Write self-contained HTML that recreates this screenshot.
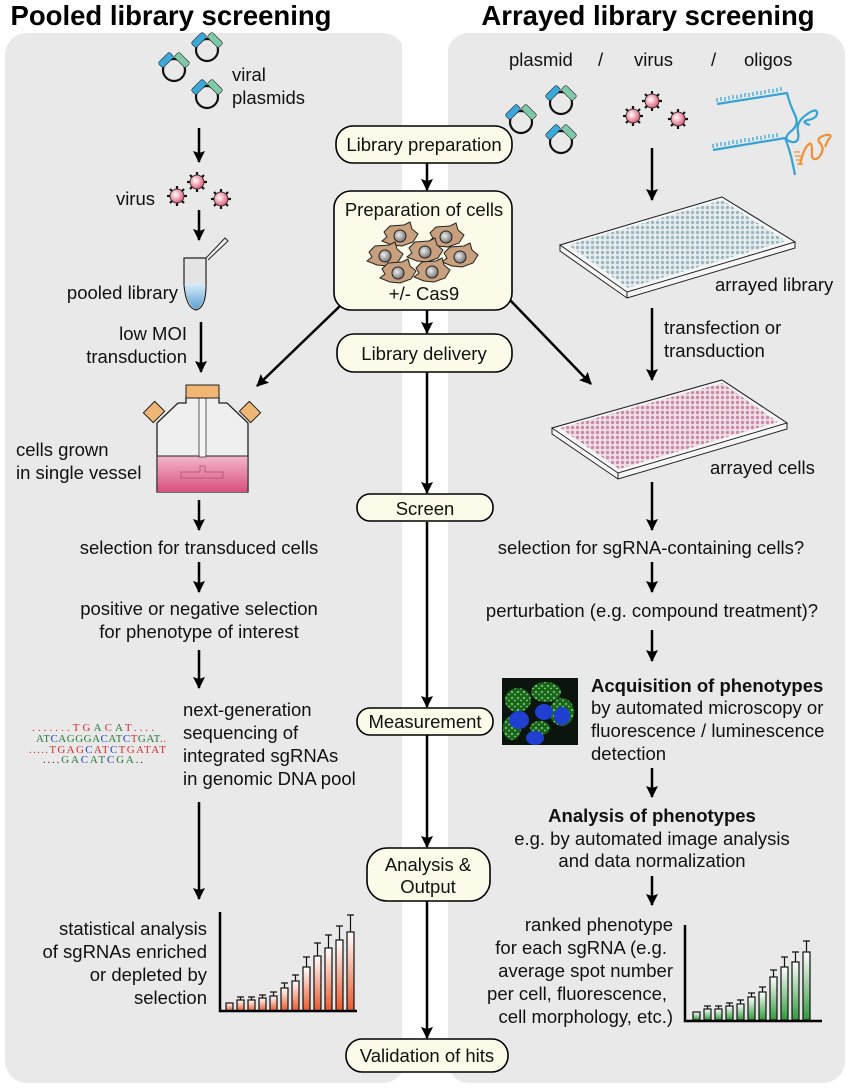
<!DOCTYPE html>
<html><head><meta charset="utf-8"><style>
html,body{margin:0;padding:0;background:#fff;}
svg{display:block;font-family:"Liberation Sans",Arial,sans-serif;}
</style></head><body>
<svg width="850" height="1089" viewBox="0 0 850 1089" xmlns="http://www.w3.org/2000/svg">
<defs>
<marker id="ah" markerWidth="14" markerHeight="14" refX="11" refY="6" orient="auto" markerUnits="userSpaceOnUse">
<path d="M0,0 L12,6 L0,12 L2,6 Z" fill="#000"/></marker>
<linearGradient id="og" x1="0" y1="0" x2="0" y2="1"><stop offset="0" stop-color="#fff"/><stop offset="1" stop-color="#e8582a"/></linearGradient>
<linearGradient id="gg" x1="0" y1="0" x2="0" y2="1"><stop offset="0" stop-color="#fff"/><stop offset="1" stop-color="#2f9a3a"/></linearGradient>
<linearGradient id="pk" x1="0" y1="0" x2="0" y2="1"><stop offset="0" stop-color="#f2b6cb"/><stop offset="1" stop-color="#d9507e"/></linearGradient>
<linearGradient id="bl" x1="0" y1="0" x2="0" y2="1"><stop offset="0" stop-color="#d8ecf8"/><stop offset="1" stop-color="#5aa0d6"/></linearGradient>
<radialGradient id="vr" cx="0.4" cy="0.4" r="0.6"><stop offset="0" stop-color="#fff"/><stop offset="1" stop-color="#e0607a"/></radialGradient>
<radialGradient id="nu" cx="0.4" cy="0.4" r="0.6"><stop offset="0" stop-color="#eee"/><stop offset="1" stop-color="#777"/></radialGradient>
<pattern id="wb" width="5" height="5" patternUnits="userSpaceOnUse"><rect width="5" height="5" fill="#e8eef0"/><circle cx="2.5" cy="2.5" r="1.7" fill="#9fb8c0"/></pattern>
<pattern id="wp" width="5" height="5" patternUnits="userSpaceOnUse"><rect width="5" height="5" fill="#f0e0e8"/><circle cx="2.5" cy="2.5" r="1.7" fill="#cc8aa8"/></pattern>
<pattern id="spk" width="6" height="6" patternUnits="userSpaceOnUse"><rect width="6" height="6" fill="#1f6a20"/><circle cx="2" cy="2" r="1.2" fill="#5fe05a"/><circle cx="5" cy="4.5" r="0.9" fill="#8ff080"/></pattern>
<g id="plas"><circle cx="0" cy="0" r="11" fill="none" stroke="#111" stroke-width="2.2"/>
<rect x="-16" y="-13.5" width="16" height="7" rx="2" fill="#3aa8d8" stroke="#222" stroke-width="0.6" transform="rotate(-45 -8 -10)"/>
<rect x="0" y="-13.5" width="16" height="7" rx="2" fill="#7fc8a8" stroke="#222" stroke-width="0.6" transform="rotate(45 8 -10)"/></g>
<g id="vir"><g stroke="#111" stroke-width="2.2">
<line x1="0" y1="-10" x2="0" y2="-5"/><line x1="0" y1="10" x2="0" y2="5"/><line x1="-10" y1="0" x2="-5" y2="0"/><line x1="10" y1="0" x2="5" y2="0"/>
<line x1="-7" y1="-7" x2="-4" y2="-4"/><line x1="7" y1="7" x2="4" y2="4"/><line x1="-7" y1="7" x2="-4" y2="4"/><line x1="7" y1="-7" x2="4" y2="-4"/></g>
<circle r="7" fill="url(#vr)" stroke="#222" stroke-width="0.8"/></g>
<g id="cell"><path d="M-16,-4 L-10,-10 L4,-11 L10,-14 L12,-7 L18,-2 L13,6 L2,10 L-8,9 L-18,5 L-13,1 Z" fill="#c9a07e" stroke="#222" stroke-width="1"/><circle cx="0" cy="0" r="6" fill="url(#nu)" stroke="#222" stroke-width="1"/></g>
</defs>

<rect x="5" y="33" width="400" height="1050" rx="22" fill="#e9e9e9"/>
<rect x="447" y="33" width="398" height="1050" rx="22" fill="#e9e9e9"/>
<rect x="402" y="33" width="46" height="1056" fill="#fff"/>

<text x="171" y="25" font-size="27.5" font-weight="bold" text-anchor="middle">Pooled library screening</text>
<text x="648" y="25" font-size="27.5" font-weight="bold" text-anchor="middle">Arrayed library screening</text>

<g font-size="18.5" fill="#111">
<!-- LEFT -->
<use href="#plas" x="174" y="70"/><use href="#plas" x="207" y="50"/><use href="#plas" x="207" y="97"/>
<text x="232" y="81">viral</text><text x="232" y="104">plasmids</text>
<line x1="199" y1="128" x2="199" y2="162" stroke="#000" stroke-width="2.5" marker-end="url(#ah)"/>
<text x="155" y="205" text-anchor="end">virus</text>
<use href="#vir" x="177" y="196"/><use href="#vir" x="197" y="182"/><use href="#vir" x="221" y="199"/>
<line x1="199" y1="210" x2="199" y2="240" stroke="#000" stroke-width="2.5" marker-end="url(#ah)"/>
<path d="M184,258 L206,258 L206,285 Q206,308 196,310 Q186,308 184,285 Z" fill="#e4e4e4" stroke="#222" stroke-width="1.2"/>
<path d="M184.5,284 L205.5,284 Q205,306 196,309 Q187,306 184.5,284 Z" fill="url(#bl)"/>
<path d="M206,258 L225,238 L228,241 L208,260" fill="#eee" stroke="#222" stroke-width="1"/>
<text x="178" y="299" text-anchor="end">pooled library</text>
<text x="187" y="340" text-anchor="end">low MOI</text><text x="187" y="363" text-anchor="end">transduction</text>
<line x1="201" y1="322" x2="201" y2="372" stroke="#000" stroke-width="2.5" marker-end="url(#ah)"/>
<path d="M157,492 L157,423 L178,403 L186,403 L186,397 L219,397 L219,403 L227,403 L248,423 L248,492 Z" fill="#efefef" stroke="#222" stroke-width="1.3"/>
<rect x="157.5" y="456" width="90" height="36" fill="url(#pk)"/>
<line x1="157" y1="456" x2="248" y2="456" stroke="#222" stroke-width="1"/>
<rect x="199" y="397" width="7" height="60" fill="#f4f4f4" stroke="#333" stroke-width="0.8"/>
<path d="M181,472 L200,472 L200,466 L205,466 L205,472 L223,472 L223,478 L181,478 Z" fill="none" stroke="#b05070" stroke-width="0.8"/>
<rect x="186" y="385" width="33" height="13" fill="#f0b774" stroke="#222" stroke-width="1"/>
<rect x="146" y="405" width="16" height="14" fill="#f0b774" stroke="#222" stroke-width="1" transform="rotate(-45 154 412)"/>
<rect x="242" y="405" width="16" height="14" fill="#f0b774" stroke="#222" stroke-width="1" transform="rotate(45 250 412)"/>
<text x="16" y="456">cells grown</text><text x="16" y="479">in single vessel</text>
<line x1="199" y1="500" x2="199" y2="530" stroke="#000" stroke-width="2.5" marker-end="url(#ah)"/>
<text x="199" y="554" text-anchor="middle">selection for transduced cells</text>
<line x1="199" y1="562" x2="199" y2="592" stroke="#000" stroke-width="2.5" marker-end="url(#ah)"/>
<text x="199" y="615" text-anchor="middle">positive or negative selection</text>
<text x="199" y="638" text-anchor="middle">for phenotype of interest</text>
<line x1="199" y1="650" x2="199" y2="688" stroke="#000" stroke-width="2.5" marker-end="url(#ah)"/>
<text x="183" y="716">next-generation</text><text x="183" y="739">sequencing of</text>
<text x="183" y="762">integrated sgRNAs</text><text x="183" y="785">in genomic DNA pool</text>
<g font-family="Liberation Serif,serif" font-size="11">
<text x="32" y="731" textLength="122" lengthAdjust="spacing"><tspan fill="#d03030">.......TG</tspan><tspan fill="#2a7a3a">A</tspan><tspan fill="#d03030">C</tspan><tspan fill="#2a7a3a">A</tspan><tspan fill="#d03030">T....</tspan></text>
<text x="36" y="742" textLength="130" lengthAdjust="spacing"><tspan fill="#2a7a3a">AT</tspan><tspan fill="#2040c0">C</tspan><tspan fill="#2a7a3a">AGGGA</tspan><tspan fill="#2040c0">C</tspan><tspan fill="#2a7a3a">AT</tspan><tspan fill="#2040c0">C</tspan><tspan fill="#d03030">T</tspan><tspan fill="#2a7a3a">GAT</tspan><tspan fill="#d03030">..</tspan></text>
<text x="29" y="753" textLength="137" lengthAdjust="spacing"><tspan fill="#d03030">.....TGAG</tspan><tspan fill="#2040c0">C</tspan><tspan fill="#d03030">AT</tspan><tspan fill="#2040c0">C</tspan><tspan fill="#d03030">TGATAT</tspan></text>
<text x="43" y="763" textLength="100" lengthAdjust="spacing" fill="#333">....<tspan fill="#2a7a3a">GA</tspan><tspan fill="#2040c0">C</tspan><tspan fill="#2a7a3a">AT</tspan><tspan fill="#2040c0">C</tspan><tspan fill="#2a7a3a">GA</tspan>..</text>
</g>
<line x1="199" y1="802" x2="199" y2="899" stroke="#000" stroke-width="2.5" marker-end="url(#ah)"/>
<text x="207" y="935" text-anchor="end">statistical analysis</text>
<text x="207" y="958" text-anchor="end">of sgRNAs enriched</text>
<text x="207" y="981" text-anchor="end">or depleted by</text>
<text x="207" y="1004" text-anchor="end">selection</text>
<g stroke="#111" stroke-width="1.2">
<rect x="226" y="1003" width="7" height="8" fill="url(#og)"/>
<rect x="237" y="1000" width="7" height="11" fill="url(#og)"/>
<rect x="248" y="1000" width="7" height="11" fill="url(#og)"/>
<rect x="259" y="998" width="7" height="13" fill="url(#og)"/>
<rect x="270" y="996" width="7" height="15" fill="url(#og)"/>
<rect x="281" y="988" width="7" height="23" fill="url(#og)"/>
<rect x="292" y="981" width="7" height="30" fill="url(#og)"/>
<rect x="303" y="967" width="7" height="44" fill="url(#og)"/>
<rect x="314" y="956" width="7" height="55" fill="url(#og)"/>
<rect x="325" y="948" width="7" height="63" fill="url(#og)"/>
<rect x="336" y="940" width="7" height="71" fill="url(#og)"/>
<rect x="347" y="932" width="7" height="79" fill="url(#og)"/>
<path d="M240.5,1000V997M251.5,1000V997M262.5,998V995M273.5,996V992M284.5,988V983M295.5,981V975M306.5,967V957M317.5,956V943M328.5,948V935M339.5,940V926M350.5,932V915" fill="none"/>
<path d="M237,997h7M248,997h7M259,995h7M270,992h7M281,983h7M292,975h7M303,957h7M314,943h7M325,935h7M336,926h7M347,915h7" fill="none"/>
</g>
<path d="M220,912 V1011 H357" fill="none" stroke="#000" stroke-width="2.5"/>

<!-- CENTER -->
<g stroke="#000" stroke-width="2.5">
<line x1="427" y1="163" x2="427" y2="190" marker-end="url(#ah)"/>
<line x1="427" y1="310" x2="427" y2="333" marker-end="url(#ah)"/>
<line x1="427" y1="372" x2="427" y2="493" marker-end="url(#ah)"/>
<line x1="427" y1="522" x2="427" y2="707" marker-end="url(#ah)"/>
<line x1="427" y1="735" x2="427" y2="847" marker-end="url(#ah)"/>
<line x1="427" y1="901" x2="427" y2="1038" marker-end="url(#ah)"/>
<line x1="340" y1="306" x2="257" y2="386" marker-end="url(#ah)"/>
<line x1="510" y1="300" x2="591" y2="384" marker-end="url(#ah)"/>
</g>
<g fill="#fcfbe9" stroke="#000" stroke-width="1.6">
<rect x="336" y="126" width="176" height="37" rx="17"/>
<rect x="334" y="191" width="178" height="119" rx="17"/>
<rect x="337" y="334" width="175" height="38" rx="17"/>
<rect x="357" y="494" width="136" height="27" rx="13"/>
<rect x="357" y="708" width="136" height="27" rx="13"/>
<rect x="367" y="848" width="123" height="53" rx="20"/>
<rect x="346" y="1039" width="162" height="33" rx="16"/>
</g>
<text x="424" y="151" text-anchor="middle">Library preparation</text>
<text x="424" y="216" text-anchor="middle">Preparation of cells</text>
<use href="#cell" x="400" y="236"/><use href="#cell" x="446" y="237"/>
<use href="#cell" x="385" y="256"/><use href="#cell" x="425" y="252"/><use href="#cell" x="460" y="257"/>
<use href="#cell" x="398" y="273"/><use href="#cell" x="432" y="272"/>
<text x="424" y="300" text-anchor="middle">+/- Cas9</text>
<text x="424" y="360" text-anchor="middle">Library delivery</text>
<text x="425" y="515" text-anchor="middle">Screen</text>
<text x="425" y="728" text-anchor="middle">Measurement</text>
<text x="428" y="871" text-anchor="middle">Analysis &amp;</text>
<text x="428" y="893" text-anchor="middle">Output</text>
<text x="427" y="1062" text-anchor="middle">Validation of hits</text>

<!-- RIGHT -->
<text x="509" y="66">plasmid</text><text x="598" y="66">/</text><text x="634" y="66">virus</text>
<text x="711" y="66">/</text><text x="744" y="66">oligos</text>
<use href="#plas" x="521" y="122"/><use href="#plas" x="561" y="103"/><use href="#plas" x="561" y="142"/>
<use href="#vir" x="633" y="116"/><use href="#vir" x="652" y="101"/><use href="#vir" x="678" y="119"/>
<g fill="none" stroke-width="2.2">
<path d="M717,104 L787,93 Q790,105 795,115 Q800,125 790,132 Q782,140 792,142 Q800,143 798,132 Q796,122 806,115 Q815,108 817,112 Q818,118 808,120 Q800,122 810,125" stroke="#35a2d6"/>
<path d="M717,102 l0,-4 M721,101 l0,-4 M725,101 l0,-4 M729,100 l0,-4 M733,99 l0,-4 M737,99 l0,-4 M741,98 l0,-4 M745,97 l0,-4 M749,97 l0,-4 M753,96 l0,-4 M757,95 l0,-4 M761,95 l0,-4 M765,94 l0,-4 M769,93 l0,-4 M773,93 l0,-4 M777,92 l0,-4 M781,91 l0,-4" stroke="#35a2d6" stroke-width="1.2"/>
<path d="M713,150 L785,138 Q790,150 793,165 L795,175" stroke="#35a2d6"/>
<path d="M713,148 l0,-4 M717,147 l0,-4 M721,146 l0,-4 M725,146 l0,-4 M729,145 l0,-4 M733,144 l0,-4 M737,144 l0,-4 M741,143 l0,-4 M745,142 l0,-4 M749,142 l0,-4 M753,141 l0,-4 M757,140 l0,-4 M761,140 l0,-4 M765,139 l0,-4 M769,138 l0,-4 M773,138 l0,-4 M777,137 l0,-4" stroke="#35a2d6" stroke-width="1.2"/>
<path d="M800,165 Q803,150 808,145 Q812,140 812,152 Q811,162 818,158 Q826,150 820,143 Q815,138 826,135 Q834,134 828,140 L825,147" stroke="#f09030"/>
<path d="M794,152 h6 M795,156 h6 M796,160 h6 M797,164 h6" stroke="#f09030" stroke-width="1.2"/>
</g>
<line x1="652" y1="148" x2="652" y2="200" stroke="#000" stroke-width="2.5" marker-end="url(#ah)"/>
<path d="M560,245 L722,197 L795,242 L795,248 L627,298 L560,251 Z" fill="#f6f6f6" stroke="#222" stroke-width="1"/>
<path d="M560,245 L722,197 L795,242 L627,292 Z" fill="#f6f6f6" stroke="#222" stroke-width="1"/>
<path d="M568,245 L722,200 L786,241 L628,288 Z" fill="url(#wb)"/>
<line x1="627" y1="292" x2="627" y2="298" stroke="#222"/>
<text x="715" y="291">arrayed library</text>
<line x1="652" y1="308" x2="652" y2="380" stroke="#000" stroke-width="2.5" marker-end="url(#ah)"/>
<text x="664" y="334">transfection or</text><text x="664" y="357">transduction</text>
<path d="M552,428 L722,380 L787,423 L787,429 L618,479 L552,434 Z" fill="#f6f6f6" stroke="#222" stroke-width="1"/>
<path d="M552,428 L722,380 L787,423 L618,473 Z" fill="#f6f6f6" stroke="#222" stroke-width="1"/>
<path d="M560,428 L722,383 L778,422 L619,469 Z" fill="url(#wp)"/>
<line x1="618" y1="473" x2="618" y2="479" stroke="#222"/>
<text x="710" y="474">arrayed cells</text>
<line x1="652" y1="482" x2="652" y2="530" stroke="#000" stroke-width="2.5" marker-end="url(#ah)"/>
<text x="651" y="554" text-anchor="middle">selection for sgRNA-containing cells?</text>
<line x1="652" y1="562" x2="652" y2="592" stroke="#000" stroke-width="2.5" marker-end="url(#ah)"/>
<text x="652" y="617" text-anchor="middle">perturbation (e.g. compound treatment)?</text>
<line x1="652" y1="630" x2="652" y2="661" stroke="#000" stroke-width="2.5" marker-end="url(#ah)"/>
<rect x="502" y="678" width="76" height="67" fill="#0c140e"/>
<g fill="url(#spk)" opacity="0.9">
<ellipse cx="518" cy="700" rx="13" ry="12"/><ellipse cx="546" cy="692" rx="15" ry="10"/><ellipse cx="562" cy="712" rx="12" ry="14"/><ellipse cx="512" cy="728" rx="9" ry="12"/><ellipse cx="540" cy="728" rx="10" ry="7"/>
</g>
<g fill="#1f3fd0"><ellipse cx="519" cy="720" rx="10" ry="9"/><ellipse cx="544" cy="712" rx="9" ry="8"/><ellipse cx="562" cy="716" rx="8" ry="9"/><ellipse cx="535" cy="738" rx="9" ry="7"/></g>
<text x="591" y="692" font-weight="bold">Acquisition of phenotypes</text>
<text x="591" y="714">by automated microscopy or</text>
<text x="591" y="737">fluorescence / luminescence</text>
<text x="591" y="760">detection</text>
<line x1="652" y1="768" x2="652" y2="797" stroke="#000" stroke-width="2.5" marker-end="url(#ah)"/>
<text x="652" y="822" text-anchor="middle" font-weight="bold">Analysis of phenotypes</text>
<text x="652" y="845" text-anchor="middle">e.g. by automated image analysis</text>
<text x="652" y="867" text-anchor="middle">and data normalization</text>
<line x1="652" y1="876" x2="652" y2="905" stroke="#000" stroke-width="2.5" marker-end="url(#ah)"/>
<text x="673" y="931" text-anchor="end">ranked phenotype</text>
<text x="667" y="954" text-anchor="end">for each sgRNA (e.g.</text>
<text x="673" y="977" text-anchor="end">average spot number</text>
<text x="667" y="1000" text-anchor="end">per cell, fluorescence,</text>
<text x="673" y="1023" text-anchor="end">cell morphology, etc.)</text>
<g stroke="#111" stroke-width="1.2" transform="translate(-28,0)">
<rect x="721" y="1012" width="7" height="8" fill="url(#gg)"/>
<rect x="732" y="1009" width="7" height="11" fill="url(#gg)"/>
<rect x="743" y="1009" width="7" height="11" fill="url(#gg)"/>
<rect x="754" y="1006" width="7" height="14" fill="url(#gg)"/>
<rect x="765" y="1004" width="7" height="16" fill="url(#gg)"/>
<rect x="776" y="997" width="7" height="23" fill="url(#gg)"/>
<rect x="787" y="992" width="7" height="28" fill="url(#gg)"/>
<rect x="798" y="977" width="7" height="43" fill="url(#gg)"/>
<rect x="809" y="967" width="7" height="53" fill="url(#gg)"/>
<rect x="820" y="962" width="7" height="58" fill="url(#gg)"/>
<rect x="831" y="952" width="7" height="68" fill="url(#gg)"/>
<path d="M735.5,1009V1006M746.5,1009V1006M757.5,1006V1003M768.5,1004V1000M779.5,997V993M790.5,992V987M801.5,977V970M812.5,967V957M823.5,962V952M834.5,952V941" fill="none"/>
<path d="M732,1006h7M743,1006h7M754,1003h7M765,1000h7M776,993h7M787,987h7M798,970h7M809,957h7M820,952h7M831,941h7" fill="none"/>
</g>
<path d="M685,925 V1021 H822" fill="none" stroke="#000" stroke-width="2.5"/>
</g>
</svg>
</body></html>
